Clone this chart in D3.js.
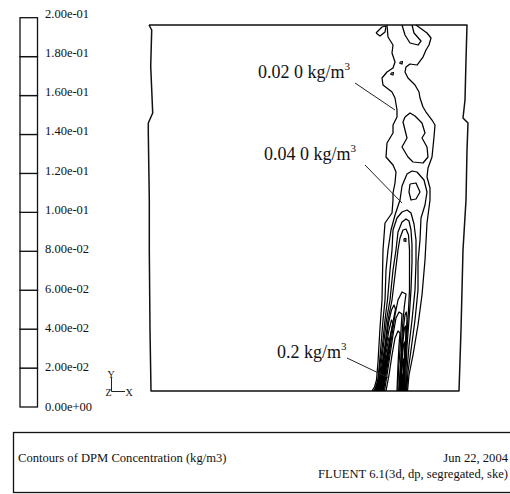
<!DOCTYPE html>
<head>
    <meta charset="utf-8">
    <title>Contours of DPM Concentration</title>
    <style>
        body {
            margin: 0;
            background: #fff;
        }

        svg {
            display: block;
        }

        text {
            font-family: 'Liberation Serif', 'Times New Roman', serif;
            fill: #111;
        }

        .frame {
            fill: none;
            stroke: #111;
            stroke-width: 1.5px;
            stroke-linejoin: round;
        }

        .contour {
            fill: none;
            stroke: #000;
            stroke-width: 1.25px;
            stroke-linejoin: round;
        }

        .leader {
            stroke: #222;
            stroke-width: 1px;
        }

        .bar rect {
            fill: #fff;
            stroke: #111;
            stroke-width: 1.3px;
        }
    </style>
    <script src="https://d3js.org/d3.v7.min.js"></script>
</head>

<body>
    <script type="text/javascript">
        "use strict";
        const width = 510, height = 494;

        // colour bar levels (kg/m3) and their printed labels
        const barLevels = [0, 0.02, 0.04, 0.06, 0.08, 0.10, 0.12, 0.14, 0.16, 0.18, 0.20];
        const barLabels = ["0.00e+00", "2.00e-02", "4.00e-02", "6.00e-02", "8.00e-02", "1.00e-01",
            "1.20e-01", "1.40e-01", "1.60e-01", "1.80e-01", "2.00e-01"];

        // geometry outline, mm (x from left wall, y from floor)
        const domainOutline = [[0, 366], [318, 366], [317, 331], [316, 291], [314, 273], [319, 268], [318, 241],
            [317, 191], [314, 141], [312, 61], [310, 0], [2, 0], [1, 61], [0.3, 141], [0.3, 191], [-0.7, 258],
            [-0.7, 268], [3.7, 278], [1.7, 325], [2.7, 361], [0, 366]];

        // contour lines, grouped by level
        const contour020 = [
            [[238, 366], [239, 354], [244, 346], [243, 338], [246, 329], [244, 323], [238, 319], [233, 313], [234, 306],
            [243, 299], [246, 293], [248, 281], [248, 274], [244, 266], [244, 258], [238, 248], [237, 234], [244, 226],
            [247, 219], [246, 208], [244, 198], [244, 191], [243, 178], [236, 168], [234, 141], [233, 91], [231, 63],
            [229, 29], [227.5, 11], [225.5, 4], [223, 0]],
            [[267, 366], [278, 358], [282, 353], [280, 346], [277, 341], [274, 334], [268, 326], [261, 327], [257, 324],
            [256, 319], [259, 313], [266, 306], [270, 299], [271, 293], [274, 284], [277, 279], [283, 271], [286, 266],
            [285, 254], [283, 234], [279, 223], [278, 214], [281, 203], [281, 191], [278, 168], [276, 131], [273, 96],
            [269, 66], [264, 36], [260, 16], [258.5, 0]],
            [[253, 366], [256, 356], [261, 348], [269, 346], [272, 350], [265, 358], [263, 366]],
            [[227, 358], [233, 364], [237, 365], [236, 359], [231, 355], [227, 358]]
        ];
        const contour040 = [
            [[251, 329], [253.5, 329.5], [253, 327], [251, 327.5], [251, 329]],
            [[242, 318], [244.5, 318.5], [244, 316], [242, 316.5], [242, 318]],
            [[256, 274], [261, 278], [266, 275], [273, 268], [276, 258], [273, 253], [278, 244], [279, 234], [274, 228],
            [264, 229], [259, 234], [253, 244], [258, 253], [256, 261], [254, 269], [256, 274]],
            [[224.5, 0], [226.5, 3], [228.8, 11], [230.3, 26], [232, 46], [234, 71], [236, 91], [237, 121], [239, 141],
            [242, 161], [246, 176], [251, 191], [253, 205], [258, 217], [263, 220], [268, 219], [275, 211], [278, 199],
            [276, 186], [272, 173], [271, 151], [269, 129], [269, 101], [266, 71], [262, 41], [259, 19], [257.7, 0]]
        ];
        const contour060 = [
            [[261, 207], [267, 208], [271, 199], [267, 192], [262, 191], [260, 199], [261, 207]],
            [[225.5, 0], [229.5, 11], [231, 26], [233.5, 46], [236, 71], [238.5, 91], [241, 121], [243, 141], [244, 161],
            [248, 173], [253, 179], [258, 181], [262, 178], [265, 167], [267, 151], [267, 129], [266, 101], [263, 71],
            [260, 45], [258, 21], [257, 0]],
            [[237, 0], [240, 16], [243, 36], [246, 53], [249, 60], [251, 58], [250, 46], [249, 26], [248, 0]]
        ];
        const contour080 = [
            [[226.3, 0], [230.2, 11], [232, 26], [234.5, 46], [237.5, 71], [241, 91], [244, 121], [247, 141], [249, 159],
            [253, 169], [257, 172], [260, 170], [262, 161], [263, 146], [263, 129], [262, 101], [260, 71], [258, 45],
            [257, 21], [256.5, 0]],
            [[235.5, 0], [238, 16], [241, 36], [244, 56], [247, 73], [250, 79], [253, 77], [252, 61], [251, 41],
            [249.5, 21], [248.8, 0]]
        ];
        const contour100 = [
            [[227, 0], [230.8, 11], [233, 26], [236, 46], [239, 71], [243, 91], [246, 116], [249, 141], [251, 153],
            [254, 161], [257, 162], [259.5, 156], [260.5, 141], [260.5, 121], [260.5, 101], [259.5, 81], [258.3, 61],
            [257, 41], [256, 21], [255.7, 0]],
            [[234.5, 0], [237, 16], [240, 36], [243, 56], [246, 76], [249, 91], [253, 99], [257, 97], [255.5, 86],
            [254, 71], [252.8, 51], [251.8, 31], [249.8, 0]]
        ];
        const contour120 = [
            [[255, 152.5], [257, 152.5], [256.8, 149.5], [255, 150], [255, 152.5]],
            [[227.7, 0], [231.4, 11], [233.7, 26], [236.7, 46], [239.7, 69], [242.5, 81], [245, 86], [246.5, 82],
            [244, 69], [241.8, 56], [240, 41], [237.8, 26], [235.8, 13], [234, 0]],
            [[250.3, 0], [251.4, 21], [252.4, 36], [253.6, 51], [254.8, 66], [256, 76], [257.3, 79], [258, 73],
            [257.5, 61], [256.6, 46], [255.8, 26], [255.2, 0]]
        ];
        const contour140 = [
            [[228.3, 0], [232, 11], [234.3, 26], [237.3, 46], [240, 61], [242.5, 71], [244, 68], [241.2, 55],
            [239.4, 41], [237.2, 26], [235.2, 13], [233.4, 0]],
            [[250.8, 0], [251.9, 21], [252.9, 36], [254.1, 51], [255.5, 63], [256.6, 65], [256.9, 57], [256.1, 44],
            [255.4, 26], [254.7, 0]]
        ];
        const contour160 = [
            [[228.9, 0], [232.5, 11], [234.9, 26], [237.6, 41], [239.8, 53], [241.3, 51], [238.8, 40], [236.6, 26],
            [234.6, 13], [232.8, 0]],
            [[251.3, 0], [252.4, 21], [253.4, 35], [254.6, 47], [255.8, 49], [255.7, 41], [254.9, 25], [254.2, 0]]
        ];
        const contour180 = [
            [[229.5, 0], [233, 11], [235.2, 25], [237.3, 35], [238.3, 33], [236, 25], [234.1, 13], [232.2, 0]],
            [[251.8, 0], [252.8, 19], [253.8, 31], [254.8, 32], [254.5, 21], [253.7, 0]]
        ];
        const contour200 = [
            [[230.1, 0], [233.3, 10], [234.6, 20], [235.6, 21], [233.8, 12], [231.6, 0]],
            [[252.3, 0], [253, 13], [253.8, 17], [254.1, 11], [253.2, 0]]
        ];

        const contourLevels = [
            { level: 0.02, lines: contour020 }, { level: 0.04, lines: contour040 },
            { level: 0.06, lines: contour060 }, { level: 0.08, lines: contour080 },
            { level: 0.10, lines: contour100 }, { level: 0.12, lines: contour120 },
            { level: 0.14, lines: contour140 }, { level: 0.16, lines: contour160 },
            { level: 0.18, lines: contour180 }, { level: 0.20, lines: contour200 }
        ];

        // call-outs: text anchor and leader line, in mm
        const calloutText = ["0.02 0 kg/m", "0.04 0 kg/m", "0.2 kg/m"];
        const calloutAt = [[109, 313], [115, 231], [128, 33]];
        const calloutFrom = [[206, 308], [216, 226], [198, 33]];
        const calloutTo = [[246, 281], [253, 188], [240, 13]];

        const footerLeft = "Contours of DPM Concentration (kg/m3)";
        const footerDate = "Jun 22, 2004";
        const footerSolver = "FLUENT 6.1(3d, dp, segregated, ske)";

        var x = d3.scaleLinear().domain([0, 318]).range([149, 467]);
        var y = d3.scaleLinear().domain([0, 366]).range([391, 25]);

        var line = d3.line()
            .x(function (d) { return x(d[0]); })
            .y(function (d) { return y(d[1]); });

        var svg = d3.select("body").append("svg")
            .attr("width", width)
            .attr("height", height);

        svg.append("rect")
            .attr("width", width)
            .attr("height", height)
            .attr("fill", "#fff");

        // colour bar
        var barY = d3.scaleLinear().domain([0, 0.2]).range([407, 17.7]);
        var labelY = d3.scaleLinear().domain([0, 0.2]).range([410.5, 17.5]);

        var bar = svg.append("g").attr("class", "bar");
        bar.selectAll("rect")
            .data(d3.pairs(barLevels))
            .enter().append("rect")
            .attr("x", 20)
            .attr("y", function (d) { return barY(d[1]); })
            .attr("width", 17.5)
            .attr("height", function (d) { return barY(d[0]) - barY(d[1]); });

        svg.append("g").selectAll("text")
            .data(barLevels)
            .enter().append("text")
            .attr("x", 45)
            .attr("y", function (d) { return labelY(d); })
            .attr("font-size", "12.5px")
            .text(function (d, i) { return barLabels[i]; });

        // axis triad
        var triad = svg.append("g");
        triad.append("path")
            .attr("d", "M111.5,378V391.5H125")
            .attr("fill", "none")
            .attr("stroke", "#222")
            .attr("stroke-width", 1);
        triad.append("text").attr("x", 107.5).attr("y", 378).attr("font-size", "10px").text("Y");
        triad.append("text").attr("x", 105.5).attr("y", 396).attr("font-size", "10px").text("Z");
        triad.append("text").attr("x", 125.5).attr("y", 396).attr("font-size", "10px").text("X");

        // geometry and contours
        svg.append("path")
            .datum(domainOutline)
            .attr("class", "frame")
            .attr("d", line);

        var levelGroups = svg.append("g").selectAll("g")
            .data(contourLevels)
            .enter().append("g");

        levelGroups.selectAll("path")
            .data(function (d) { return d.lines; })
            .enter().append("path")
            .attr("class", "contour")
            .attr("d", line);

        // call-outs
        svg.append("g").selectAll("line")
            .data(calloutFrom)
            .enter().append("line")
            .attr("class", "leader")
            .attr("x1", function (d) { return x(d[0]); })
            .attr("y1", function (d) { return y(d[1]); })
            .attr("x2", function (d, i) { return x(calloutTo[i][0]); })
            .attr("y2", function (d, i) { return y(calloutTo[i][1]); });

        var callouts = svg.append("g").selectAll("text")
            .data(calloutText)
            .enter().append("text")
            .attr("x", function (d, i) { return x(calloutAt[i][0]); })
            .attr("y", function (d, i) { return y(calloutAt[i][1]); })
            .attr("font-size", "18px");
        callouts.append("tspan").text(function (d) { return d; });
        callouts.append("tspan")
            .attr("dy", -8)
            .attr("font-size", "11px")
            .text("3");

        // title block
        svg.append("rect")
            .attr("x", 13.5)
            .attr("y", 432.5)
            .attr("width", 510)
            .attr("height", 60)
            .attr("fill", "none")
            .attr("stroke", "#111")
            .attr("stroke-width", 1.3);
        svg.append("text")
            .attr("x", 18)
            .attr("y", 462)
            .attr("font-size", "12.6px")
            .text(footerLeft);
        svg.append("text")
            .attr("x", 508)
            .attr("y", 462)
            .attr("text-anchor", "end")
            .attr("font-size", "12.6px")
            .text(footerDate);
        svg.append("text")
            .attr("x", 508)
            .attr("y", 478)
            .attr("text-anchor", "end")
            .attr("font-size", "12.6px")
            .text(footerSolver);
    </script>
</body>
